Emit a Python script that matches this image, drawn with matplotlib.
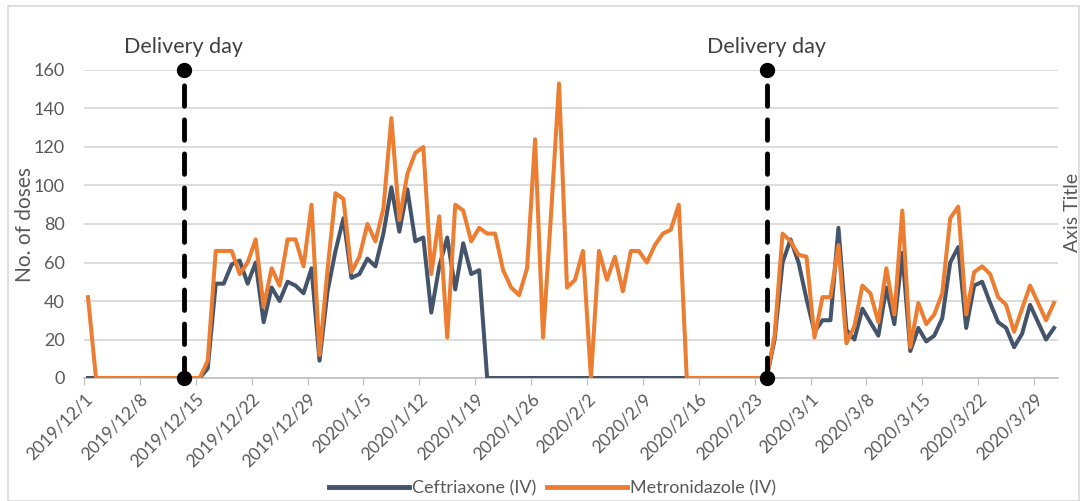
import datetime as dt
import numpy as np
import matplotlib
matplotlib.use("Agg")
import matplotlib.pyplot as plt
from matplotlib.lines import Line2D
from matplotlib.patches import Rectangle

plt.rcParams['font.family'] = ['Lato', 'DejaVu Sans']

# daily doses, 2019/12/1 .. 2020/3/31
start = dt.date(2019, 12, 1)
ceftriaxone = [
    0, 0, 0, 0, 0, 0, 0, 0, 0, 0, 0, 0, 0, 0, 0, 5, 49, 49, 59, 61,
    49, 60, 29, 47, 40, 50, 48, 44, 57, 9, 45, 66, 83, 52, 54, 62,
    58, 75, 99, 76, 98, 71, 73, 34, 58, 73, 46, 70, 54, 56,
    0, 0, 0, 0, 0, 0, 0, 0, 0, 0, 0, 0, 0, 0, 0, 0, 0, 0, 0, 0,
    0, 0, 0, 0, 0, 0, 0, 0, 0, 0, 0, 0, 0, 0, 0, 0,
    20, 60, 72, 60, 41, 24, 30, 30, 78, 25, 20, 36, 29, 22, 47, 28,
    65, 14, 26, 19, 22, 31, 60, 68, 26, 48, 50, 39, 29, 26, 16, 23,
    38, 29, 20, 26,
]
metronidazole = [
    42, 0, 0, 0, 0, 0, 0, 0, 0, 0, 0, 0, 0, 0, 0, 9, 66, 66, 66, 54,
    60, 72, 37, 57, 48, 72, 72, 58, 90, 12, 56, 96, 93, 55, 63, 80,
    71, 88, 135, 82, 106, 117, 120, 54, 84, 21, 90, 87, 71, 78,
    75, 75, 56, 47, 43, 57, 124, 21, 85, 153, 47, 51, 66, 0, 66, 51,
    63, 45, 66, 66, 60, 69, 75, 77, 90, 0, 0, 0, 0, 0, 0, 0, 0, 0, 0, 0,
    22, 75, 71, 64, 63, 21, 42, 42, 69, 18, 27, 48, 44, 29, 57, 33,
    87, 16, 39, 28, 33, 44, 83, 89, 33, 55, 58, 54, 42, 38, 24, 36,
    48, 39, 30, 39,
]
delivery_days = [dt.date(2019, 12, 13), dt.date(2020, 2, 24)]
tick_dates = [start + dt.timedelta(days=7 * k) for k in range(18)]

blue = '#44546A'
orange = '#ED7D31'
grey_text = '#595959'

days = np.arange(len(ceftriaxone))

fig = plt.figure(figsize=(10.84, 5.01), dpi=100)
fig.patches.append(Rectangle((8 / 1084, 0), 1071 / 1084, 495 / 501, transform=fig.transFigure,
                             fill=False, edgecolor='#D9D9D9', linewidth=1.2))
ax = fig.add_axes([84 / 1084, 123 / 501, 974 / 1084, 308 / 501])

ax.plot(days, ceftriaxone, color=blue, lw=2.9, solid_joinstyle='round', zorder=3)
ax.plot(days, metronidazole, color=orange, lw=2.9, solid_joinstyle='round', zorder=4)

for d in delivery_days:
    xd = (d - start).days
    ax.plot([xd, xd], [0, 160], color='black', lw=3.5, dashes=(4.2, 2.8),
            dash_capstyle='round', zorder=5, clip_on=False)
    ax.plot([xd, xd], [0, 160], 'o', color='black', ms=10, zorder=6, clip_on=False)
    ax.text(xd, 167, 'Delivery day', ha='center', va='bottom', fontsize=15.5,
            color='#404040')

ax.set_xlim(-0.5, len(days) - 0.5)
ax.set_ylim(0, 160)
ax.set_yticks(range(0, 161, 20))
ax.grid(axis='y', color='#D9D9D9', lw=1.3)
ax.set_axisbelow(True)

ax.set_xticks([(t - start).days - 0.5 for t in tick_dates])
ax.set_xticklabels([f'{t.year}/{t.month}/{t.day}' for t in tick_dates],
                   rotation=45, ha='right', rotation_mode='anchor')
ax.tick_params(axis='x', length=5, color='#BFBFBF', labelsize=12.5, labelcolor=grey_text, pad=4)
ax.tick_params(axis='y', length=0, labelsize=13, labelcolor=grey_text, pad=14)

for s in ['top', 'right', 'left']:
    ax.spines[s].set_visible(False)
ax.spines['bottom'].set_color('#BFBFBF')
ax.spines['bottom'].set_linewidth(1.2)

fig.text(25 / 1084, 1 - 225 / 501, 'No. of doses', rotation=90, ha='center', va='center',
         fontsize=15, color=grey_text)
fig.text(1072 / 1084, 1 - 212 / 501, 'Axis Title', rotation=90, ha='center', va='center',
         fontsize=14, color=grey_text)

handles = [Line2D([], [], color=blue, lw=3.5), Line2D([], [], color=orange, lw=3.5)]
fig.legend(handles, ['Ceftriaxone (IV)', 'Metronidazole (IV)'], loc='center',
           bbox_to_anchor=(0.51, 13 / 501), ncol=2, frameon=False, fontsize=13,
           handlelength=4.4, columnspacing=0.6, handletextpad=0.2, labelcolor=grey_text,
           borderpad=0.1)

fig.savefig('out.png', dpi=100)
